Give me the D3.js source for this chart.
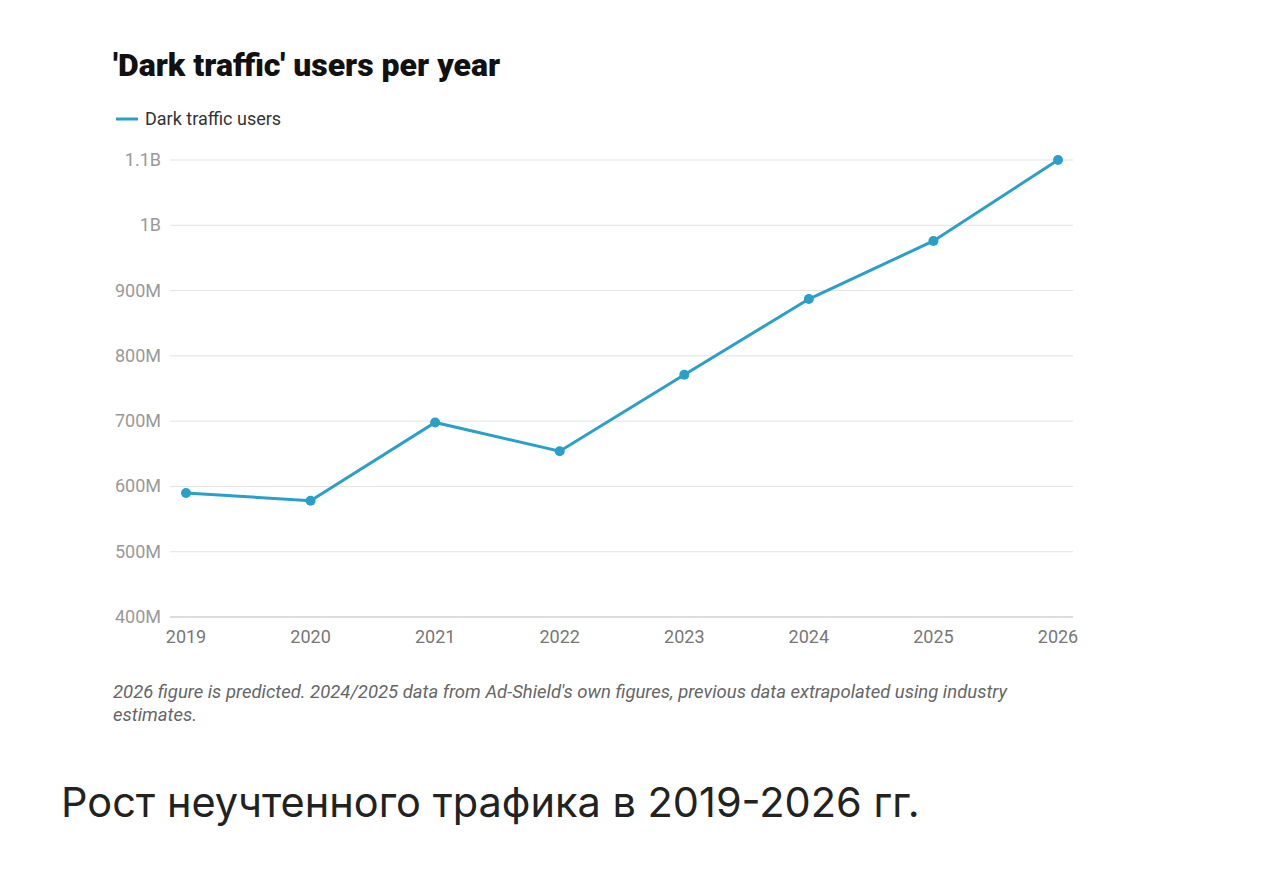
<!DOCTYPE html><html><head><meta charset="utf-8"><script src="https://cdn.jsdelivr.net/npm/d3@7"></script>
<style>body{margin:0;background:#fff;font-family:Roboto,sans-serif}</style></head><body><svg id="c" width="1280" height="873"></svg>
<script>
const years=[2019,2020,2021,2022,2023,2024,2025,2026];
const users=[590,578,698,654,771,887,976,1100]; // millions
const yTicks=[400,500,600,700,800,900,1000,1100];
const yLabels=["400M","500M","600M","700M","800M","900M","1B","1.1B"];
const svg=d3.select("#c");
const x=d3.scaleLinear().domain([2019,2026]).range([186,1058]);
const y=d3.scaleLinear().domain([400,1100]).range([617,160]);
svg.append("text").attr("x",113).attr("y",76).attr("font-size",32).attr("font-weight",900).attr("fill","#111").text("'Dark traffic' users per year");
svg.append("line").attr("x1",116).attr("x2",138).attr("y1",119).attr("y2",119).attr("stroke","#2a9fc9").attr("stroke-width",3);
svg.append("text").attr("x",145).attr("y",125).attr("font-size",18).attr("fill","#333").text("Dark traffic users");
yTicks.forEach((t,i)=>{
 svg.append("line").attr("x1",170).attr("x2",1073).attr("y1",y(t)).attr("y2",y(t)).attr("stroke",i==0?"#bbb":"#e3e3e3");
 svg.append("text").attr("x",161).attr("y",y(t)+6).attr("text-anchor","end").attr("font-size",18).attr("fill","#999").text(yLabels[i]);
});
years.forEach(yr=>svg.append("text").attr("x",x(yr)).attr("y",643).attr("text-anchor","middle").attr("font-size",18).attr("fill","#777").text(yr));
svg.append("path").datum(years.map((yr,i)=>[yr,users[i]])).attr("d",d3.line().x(d=>x(d[0])).y(d=>y(d[1]))).attr("fill","none").attr("stroke","#2a9fc9").attr("stroke-width",3);
svg.selectAll("circle.p").data(users).join("circle").attr("cx",(d,i)=>x(years[i])).attr("cy",d=>y(d)).attr("r",5).attr("fill","#2a9fc9");
svg.append("text").attr("x",113).attr("y",698).attr("font-size",18.5).attr("font-style","italic").attr("fill","#666").text("2026 figure is predicted. 2024/2025 data from Ad-Shield's own figures, previous data extrapolated using industry");
svg.append("text").attr("x",113).attr("y",721).attr("font-size",18.5).attr("font-style","italic").attr("fill","#666").text("estimates.");
svg.append("text").attr("x",61).attr("y",817).attr("font-size",41.5).attr("fill","#222").attr("font-family","Inter,Roboto,sans-serif").text("Рост неучтенного трафика в 2019-2026 гг.");
</script></body></html>
